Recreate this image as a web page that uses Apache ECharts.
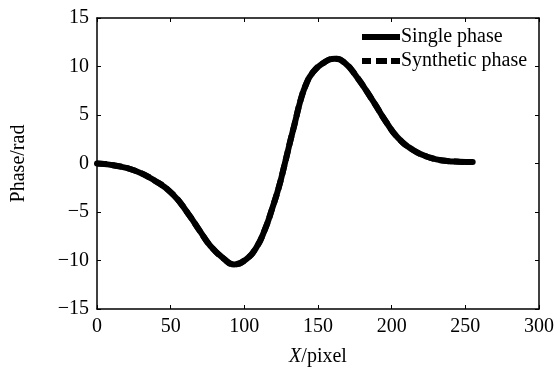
<!DOCTYPE html>
<html><head><meta charset="utf-8">
<script src="https://cdn.jsdelivr.net/npm/echarts@6/dist/echarts.min.js"></script>
<style>html,body{margin:0;padding:0;background:#fff}#c{width:558px;height:372px}</style>
</head><body><div id="c"></div>
<script>
var xs = [0, 12, 26, 39, 51, 62, 70, 77, 86, 93, 101, 108, 114, 119, 123.5, 127.5, 131, 134, 138.5, 142, 146, 153, 161.5, 168, 176, 187.5, 196.6, 204, 214.5, 226, 237.5, 246, 255];
var singlePhase = [0, -0.2, -0.75, -1.75, -3.1, -5.2, -7.0, -8.5, -9.8, -10.4, -9.9, -8.7, -6.8, -4.6, -2.4, 0, 2.2, 4.0, 6.7, 8.2, 9.3, 10.3, 10.8, 10.4, 9.0, 6.4, 4.2, 2.7, 1.4, 0.6, 0.26, 0.18, 0.15];
var syntheticPhase = [0, -0.2, -0.75, -1.75, -3.1, -5.2, -7.0, -8.5, -9.8, -10.4, -9.9, -8.7, -6.8, -4.6, -2.4, 0, 2.2, 4.0, 6.7, 8.2, 9.3, 10.3, 10.8, 10.4, 9.0, 6.4, 4.2, 2.7, 1.4, 0.6, 0.26, 0.18, 0.15];
var seriesNames = ['Single phase', 'Synthetic phase'];

function pairs(v){ return xs.map(function(x,i){return [x, v[i]];}); }
var font = 'Liberation Serif';
var fs = 20;
function axisCommon(){ return {
  axisLine:{show:true, onZero:false, lineStyle:{color:'#000', width:1.5}},
  axisTick:{show:true, inside:true, length:4, lineStyle:{color:'#000'}},
  splitLine:{show:false}
};}
var chart = echarts.init(document.getElementById('c'));
chart.setOption({
  animation:false,
  backgroundColor:'#fff',
  textStyle:{fontFamily:font},
  grid:{left:97, right:19, top:18, bottom:61},
  legend:{
    orient:'vertical', left:357, top:22, itemWidth:38, itemHeight:6, itemGap:4,
    textStyle:{fontFamily:font, fontSize:fs, color:'#000', padding:[0,0,0,-4]},
    data:[
      {name:seriesNames[0], icon:'rect'},
      {name:seriesNames[1], icon:'path://M0,0h9v6h-9z M14,0h11v6h-11z M29,0h9v6h-9z'}
    ]
  },
  xAxis:[
    Object.assign({type:'value', min:0, max:300, interval:50, position:'bottom',
      name:'{i|X}/pixel', nameLocation:'middle', nameGap:38,
      nameTextStyle:{fontFamily:font, fontSize:fs, color:'#000', rich:{i:{fontFamily:font, fontSize:fs, fontStyle:'italic', color:'#000'}}},
      axisLabel:{fontFamily:font, fontSize:fs, color:'#000', margin:8}}, axisCommon()),
    Object.assign({type:'value', min:0, max:300, interval:50, position:'top', axisLabel:{show:false}}, axisCommon())
  ],
  yAxis:[
    Object.assign({type:'value', min:-15, max:15, interval:5, position:'left',
      name:'Phase/rad', nameLocation:'middle', nameGap:68, nameRotate:90,
      nameTextStyle:{fontFamily:font, fontSize:fs, color:'#000'},
      axisLabel:{fontFamily:font, fontSize:fs, color:'#000', margin:8,
        formatter:function(v){return v<0 ? '\u2212'+Math.abs(v) : ''+v;}}}, axisCommon()),
    Object.assign({type:'value', min:-15, max:15, interval:5, position:'right', axisLabel:{show:false}}, axisCommon())
  ],
  series:[
    {name:seriesNames[0], type:'line', data:pairs(singlePhase), smooth:0.5, showSymbol:false, symbol:'none',
      lineStyle:{color:'#000', width:6, join:'round', cap:'round'}, itemStyle:{color:'#000'}},
    {name:seriesNames[1], type:'line', data:pairs(syntheticPhase), smooth:0.5, showSymbol:false, symbol:'none',
      lineStyle:{color:'#000', width:6, type:[10,5]}, itemStyle:{color:'#000'}}
  ]
});
</script></body></html>
